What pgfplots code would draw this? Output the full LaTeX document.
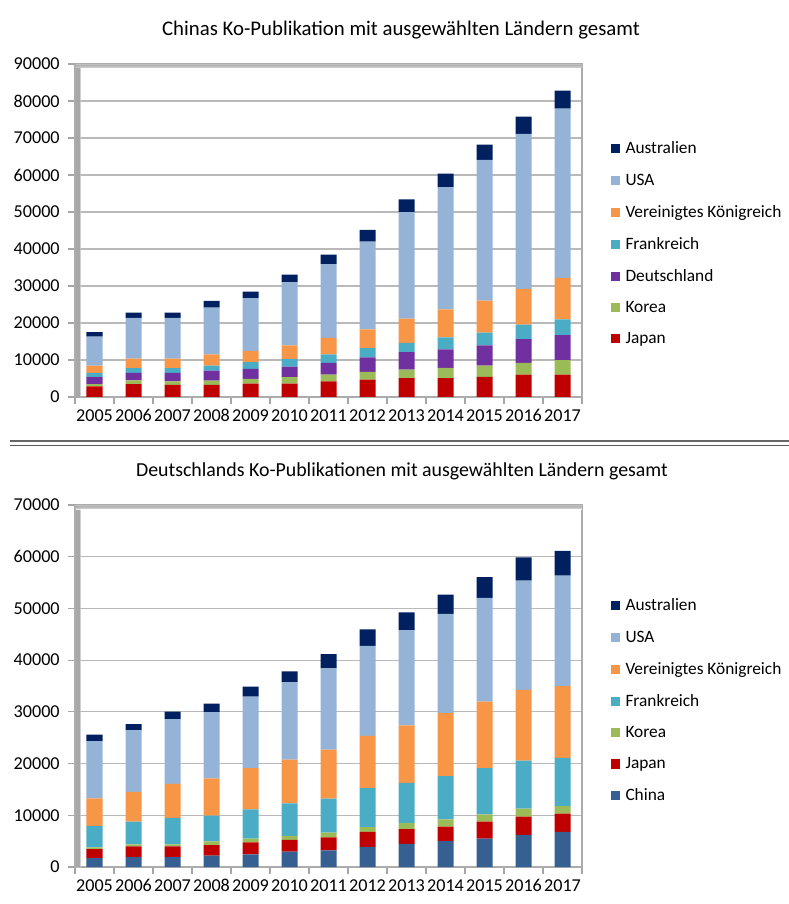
\documentclass[border=0pt]{standalone}
\usepackage{pgfplots}
\usepackage{pgfplotstable}
\pgfplotsset{compat=1.18}
\usepackage{fontspec}
\setmainfont{Carlito}

\definecolor{cAus}{HTML}{002060}
\definecolor{cUSA}{HTML}{95B3D7}
\definecolor{cVK}{HTML}{F79646}
\definecolor{cFR}{HTML}{4BACC6}
\definecolor{cDE}{HTML}{7030A0}
\definecolor{cKR}{HTML}{9BBB59}
\definecolor{cJP}{HTML}{C00000}
\definecolor{cCN}{HTML}{376092}

% China's co-publications (stack increments)
\pgfplotstableread{
x J K D F V U A
0 2900 600 1840 1160 2000 7800 1250
1 3500 1000 2000 1300 2600 10960 1440
2 3250 1000 2250 1300 2600 10960 1440
3 3250 1180 2720 1350 3000 12660 1810
4 3620 1270 2710 1800 3090 14210 1800
5 3620 1720 2900 2060 3640 17010 2150
6 4250 1810 3170 2270 4500 19900 2560
7 4700 2090 3890 2520 5080 23720 3160
8 5070 2350 4710 2530 6520 28770 3450
9 5070 2800 4980 3260 7590 32950 3710
10 5430 3070 5440 3440 8680 38010 4170
11 6060 3170 6430 3890 9680 41900 4620
12 6060 3890 6790 4260 11220 45700 4880
}\chinadata

% Germany's co-publications (stack increments)
\pgfplotstableread{
x C J K F V U A
0 1730 1730 320 4170 5320 11090 1220
1 1920 2050 390 4420 5770 11860 1220
2 1920 2050 390 5130 6600 12500 1470
3 2180 2050 710 5000 7180 12820 1660
4 2440 2300 770 5640 7950 13850 1920
5 2950 2310 770 6280 8460 14940 2110
6 3210 2500 960 6540 9480 15710 2750
7 3910 2880 900 7570 10120 17380 3200
8 4490 2820 1220 7750 11090 18400 3460
9 5000 2820 1410 8330 12180 19230 3720
10 5510 3270 1410 8910 12890 20060 3980
11 6220 3520 1540 9300 13650 21150 4490
12 6790 3530 1470 9300 13910 21350 4800
}\germanydata

\pgfplotsset{
  excel/.style={
    scale only axis,
    width=380.25pt,
    xmin=-0.5, xmax=12.5, ymin=0,
    ybar stacked, bar width=12pt,
    xtick={0,1,2,3,4,5,6,7,8,9,10,11,12},
    xticklabels={2005,2006,2007,2008,2009,2010,2011,2012,2013,2014,2015,2016,2017},
    major x tick style={draw=none},
    minor xtick={-0.5,0.5,1.5,2.5,3.5,4.5,5.5,6.5,7.5,8.5,9.5,10.5,11.5,12.5},
    minor x tick style={gray!70, line width=0.8pt},
    tick align=outside,
    major tick length=5pt, minor tick length=5pt,
    xtick pos=left, ytick pos=left,
    ymajorgrids,
    grid style={gray!55, line width=0.8pt},
    axis line style={gray!65, line width=1.3pt},
    y tick style={gray!70, line width=0.8pt},
    scaled y ticks=false,
    yticklabel style={/pgf/number format/1000 sep={}, xshift=-3pt},
    xticklabel style={text height=9.5pt, text depth=0pt},
    /pgf/number format/assume math mode=true,
    ticklabel style={font=\fontsize{13.6}{15}\selectfont, text=black},
    reverse legend,
    legend cell align=left,
    legend image code/.code={\draw[#1, draw=none] (0pt,-3.4pt) rectangle (6.8pt,3.4pt);},
    legend style={draw=none, fill=none, anchor=north west,
      font=\fontsize{13}{15}\selectfont, row sep=9.5pt,
      /tikz/every odd column/.append style={column sep=2pt},
      /tikz/every even column/.append style={column sep=0pt}},
    after end axis/.code={
      \fill[left color=gray!45, right color=white, opacity=0.8]
        (rel axis cs:0,0) ++(0.6pt,0) rectangle ([xshift=4pt,yshift=-0.6pt]rel axis cs:0,1);
      \fill[top color=gray!45, bottom color=white, opacity=0.8]
        (rel axis cs:0,1) ++(0.6pt,-0.6pt) rectangle ([yshift=-3pt]rel axis cs:1,1);
    },
  }
}

\begin{document}
\begin{tikzpicture}
\useasboundingbox (0,0) rectangle (591.75pt,678pt);

\node[font=\fontsize{15.6}{18}\selectfont] at (300.75pt,655.5pt) {Chinas Ko-Publikation mit ausgewählten Ländern gesamt};

\begin{axis}[excel,
  at={(56.25pt,380.25pt)}, anchor=south west,
  height=249.75pt,
  ymax=90000, ytick={0,10000,...,90000},
  legend style={at={(1.049,0.783)}},
]
\addplot[fill=cJP, draw=none] table[x=x,y=J]{\chinadata};
\addplot[fill=cKR, draw=none] table[x=x,y=K]{\chinadata};
\addplot[fill=cDE, draw=none] table[x=x,y=D]{\chinadata};
\addplot[fill=cFR, draw=none] table[x=x,y=F]{\chinadata};
\addplot[fill=cVK, draw=none] table[x=x,y=V]{\chinadata};
\addplot[fill=cUSA, draw=none] table[x=x,y=U]{\chinadata};
\addplot[fill=cAus, draw=none] table[x=x,y=A]{\chinadata};
\legend{Japan,Korea,Deutschland,Frankreich,Vereinigtes Königreich,USA,Australien}
\end{axis}

\draw[gray!80!black, line width=1.5pt] (7.5pt,347.25pt) -- (591.75pt,347.25pt);
\draw[gray!70!black, line width=0.8pt] (7.5pt,344.0pt) -- (591.75pt,344.0pt);

\node[font=\fontsize{14.9}{18}\selectfont] at (301.5pt,324.75pt) {Deutschlands Ko-Publikationen mit ausgewählten Ländern gesamt};

\begin{axis}[excel,
  at={(56.25pt,27.75pt)}, anchor=south west,
  height=271.5pt,
  ymax=70000, ytick={0,10000,...,70000},
  legend style={at={(1.049,0.756)}},
]
\addplot[fill=cCN, draw=none] table[x=x,y=C]{\germanydata};
\addplot[fill=cJP, draw=none] table[x=x,y=J]{\germanydata};
\addplot[fill=cKR, draw=none] table[x=x,y=K]{\germanydata};
\addplot[fill=cFR, draw=none] table[x=x,y=F]{\germanydata};
\addplot[fill=cVK, draw=none] table[x=x,y=V]{\germanydata};
\addplot[fill=cUSA, draw=none] table[x=x,y=U]{\germanydata};
\addplot[fill=cAus, draw=none] table[x=x,y=A]{\germanydata};
\legend{China,Japan,Korea,Frankreich,Vereinigtes Königreich,USA,Australien}
\end{axis}
\end{tikzpicture}
\end{document}
